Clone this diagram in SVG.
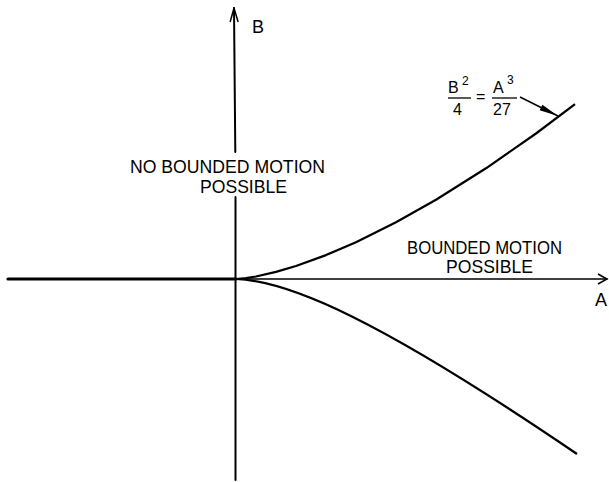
<svg xmlns="http://www.w3.org/2000/svg" width="609" height="482" viewBox="0 0 609 482">
<style>
.ax{stroke:#000;fill:none;stroke-linecap:round}
.cv{stroke:#000;fill:none;stroke-width:2.2;stroke-linejoin:round}
.t{font-family:"Liberation Sans",Arial,sans-serif;font-size:18px;fill:#000}
.f{font-family:"Liberation Sans",Arial,sans-serif;font-size:16px;fill:#000}
.s{font-family:"Liberation Sans",Arial,sans-serif;font-size:12px;fill:#000}
</style>
<defs>
<marker id="open" markerWidth="12" markerHeight="12" refX="10" refY="6" orient="auto" markerUnits="userSpaceOnUse">
<path d="M1,1 L10,6 L1,11" fill="none" stroke="#000" stroke-width="1.5"/>
</marker>
<marker id="openv" markerWidth="16" markerHeight="12" refX="15" refY="6" orient="auto" markerUnits="userSpaceOnUse">
<path d="M1,2 L15,6 L1,10" fill="none" stroke="#000" stroke-width="1.5"/>
</marker>
<marker id="fill" markerWidth="20" markerHeight="10" refX="19" refY="5" orient="auto" markerUnits="userSpaceOnUse">
<path d="M0,2 L19,5 L0,8 Z" fill="#000"/>
</marker>
</defs>
<g id="connectors">
<line class="ax" x1="8" y1="279" x2="236" y2="279" stroke-width="3.2"/>
<line class="ax" x1="236" y1="279" x2="607" y2="279" stroke-width="1.6" marker-end="url(#open)"/>
<line class="ax" x1="235.5" y1="480" x2="235.5" y2="197" stroke-width="2"/>
<line class="ax" x1="235.3" y1="152" x2="234" y2="8" stroke-width="2" marker-end="url(#openv)"/>
<path class="cv" d="M236,279 L246,278.1 L256,276.5 L276,271.9 L296,266 L326,255.1 L356,242.2 L396,222.3 L436,199.8 L486,168.3 L536,133.5 L575,104.2"/>
<path class="cv" d="M236,279 C290,281 380,320 577,454"/>
<line x1="520" y1="97" x2="558" y2="116" stroke="#000" stroke-width="1.4" marker-end="url(#fill)"/>
</g>
<g id="label-B"><text class="t" x="252" y="33">B</text></g>
<g id="label-A"><text class="t" x="595" y="306">A</text></g>
<g id="region-unbounded">
<text class="t" x="130" y="173" textLength="195" lengthAdjust="spacingAndGlyphs">NO BOUNDED MOTION</text>
<text class="t" x="200" y="193" textLength="87" lengthAdjust="spacingAndGlyphs">POSSIBLE</text>
</g>
<g id="region-bounded">
<text class="t" x="407" y="254" textLength="155" lengthAdjust="spacingAndGlyphs">BOUNDED MOTION</text>
<text class="t" x="446" y="273" textLength="87" lengthAdjust="spacingAndGlyphs">POSSIBLE</text>
</g>
<g id="equation">
<text class="f" x="448" y="93">B</text>
<text class="s" x="462" y="85">2</text>
<line x1="448" y1="98" x2="471" y2="98" stroke="#000" stroke-width="1.3"/>
<text class="f" x="453" y="115">4</text>
<text class="f" x="476" y="102">=</text>
<text class="f" x="493" y="93">A</text>
<text class="s" x="507" y="84">3</text>
<line x1="492" y1="98" x2="517" y2="98" stroke="#000" stroke-width="1.3"/>
<text class="f" x="493" y="115">27</text>
</g>
</svg>
